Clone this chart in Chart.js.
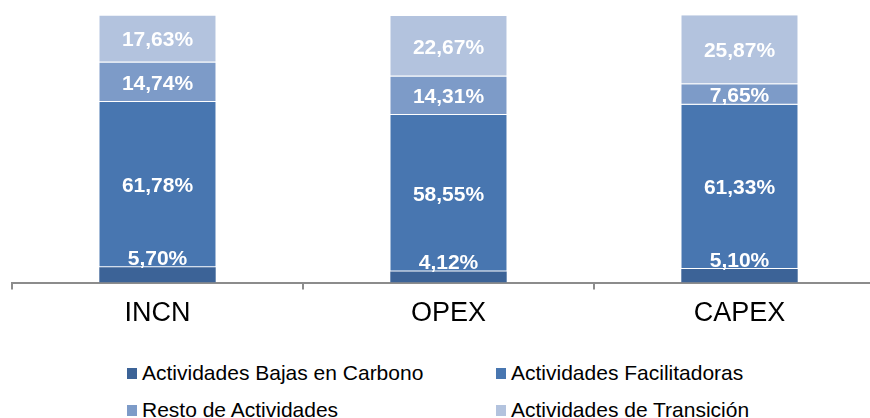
<!DOCTYPE html>
<html>
<head>
<meta charset="utf-8">
<script src="https://cdn.jsdelivr.net/npm/chart.js@4"></script>
<style>
  html, body { margin: 0; padding: 0; background: #fff; }
  #wrap { position: relative; width: 870px; height: 418px; overflow: hidden; }
  #box { position: absolute; left: 0; top: 0; width: 890px; height: 338px; }
  .lg { position: absolute; font-family: "Liberation Sans", Arial, sans-serif; font-size: 21px; line-height: 21px; color: #000; white-space: nowrap; }
  .sq { position: absolute; width: 10px; height: 11px; }
</style>
</head>
<body>
<div id="wrap">
  <div id="box"><canvas id="chart"></canvas></div>
  <div id="legend"></div>
</div>
<script>
// categorias y valores (%)
const categories = ['INCN', 'OPEX', 'CAPEX']
const seriesNames = ['Actividades Bajas en Carbono', 'Actividades Facilitadoras', 'Resto de Actividades', 'Actividades de Transición']
const bajasCarbono = [5.70, 4.12, 5.10]
const facilitadoras = [61.78, 58.55, 61.33]
const resto = [14.74, 14.31, 7.65]
const transicion = [17.63, 22.67, 25.87]
const colors = ['#3c6397', '#4876b0', '#7d9bc8', '#b3c3de']

const font = '"Liberation Sans", Arial, sans-serif'

// etiquetas de valor dentro de las barras
const valueLabels = {
    id: 'valueLabels',
    afterDatasetsDraw(chart) {
        const ctx = chart.ctx
        ctx.save()
        ctx.fillStyle = '#ffffff'
        ctx.font = 'bold 21px ' + font
        ctx.textAlign = 'center'
        ctx.textBaseline = 'middle'
        chart.data.datasets.forEach((ds, i) => {
            chart.getDatasetMeta(i).data.forEach((bar, j) => {
                let v = ds.data[j].toFixed(2).replace('.', ',') + '%'
                // la serie de abajo es muy fina: etiqueta justo encima
                let y = i === 0 ? bar.y - 8 : (bar.y + bar.base) / 2 + 1.5
                ctx.fillText(v, bar.x, y)
            })
        })
        ctx.restore()
    }
}

const allData = [bajasCarbono, facilitadoras, resto, transicion]

new Chart(document.getElementById('chart'), {
    type: 'bar',
    data: {
        labels: categories,
        datasets: allData.map((d, i) => ({
            label: seriesNames[i],
            data: d,
            backgroundColor: colors[i],
            borderColor: 'rgba(255,255,255,0.45)',
            borderWidth: i === 0 ? 0 : { top: 0, bottom: 1, left: 0, right: 0 },
            borderSkipped: false,
            barPercentage: 0.4,
            categoryPercentage: 1
        }))
    },
    options: {
        responsive: true,
        maintainAspectRatio: false,
        animation: false,
        layout: { padding: { left: 12, right: 5, top: 15, bottom: 0 } },
        plugins: { legend: { display: false }, tooltip: { enabled: false } },
        scales: {
            x: {
                stacked: true,
                offset: true,
                border: { display: true, color: '#8c8c8c', width: 2 },
                grid: { offset: true, drawOnChartArea: false, drawTicks: true, tickLength: 7, color: '#8c8c8c', lineWidth: 2 },
                ticks: { color: '#000', font: { family: font, size: 27 }, padding: 8 }
            },
            y: {
                stacked: true,
                display: false,
                min: 0,
                max: 100
            }
        }
    },
    plugins: [valueLabels]
})

// leyenda en dos columnas
const legendPos = [[127, 362], [496, 362], [127, 399], [496, 399]]
const legendEl = document.getElementById('legend')
seriesNames.forEach((name, i) => {
    let sq = document.createElement('div')
    sq.className = 'sq'
    sq.style.left = legendPos[i][0] + 'px'
    sq.style.top = (legendPos[i][1] + 6) + 'px'
    sq.style.background = colors[i]
    legendEl.appendChild(sq)
    let t = document.createElement('div')
    t.className = 'lg'
    t.style.left = (legendPos[i][0] + 15) + 'px'
    t.style.top = legendPos[i][1] + 'px'
    t.textContent = name
    legendEl.appendChild(t)
})
</script>
</body>
</html>
